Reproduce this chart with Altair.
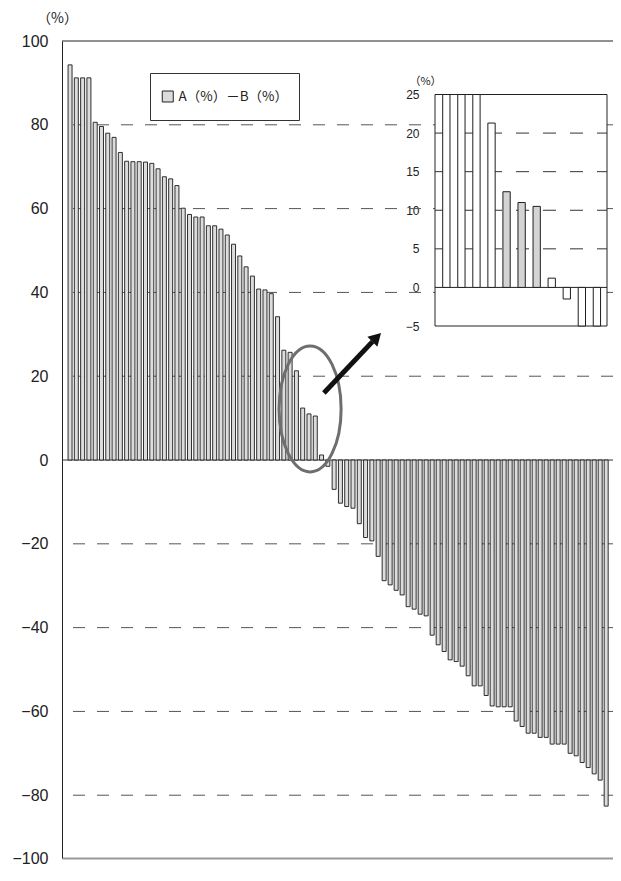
import altair as alt
import pandas as pd

# ---------------- data ----------------
values = [94.3, 91.2, 91.2, 91.2, 80.6, 79.6, 78.0, 77.0, 73.4, 71.3,
          71.2, 71.2, 71.1, 70.8, 69.5, 67.6, 67.1, 65.5, 60.1, 58.6,
          58.0, 58.0, 55.9, 55.9, 55.1, 53.7, 51.5, 48.7, 46.1, 43.9,
          40.8, 40.6, 39.7, 34.2, 26.2, 25.7, 21.3, 12.4, 11.0, 10.5,
          1.2, -1.5, -7.0, -10.3, -11.1, -11.5, -15.2, -18.5, -19.3, -23.0,
          -28.8, -29.8, -31.1, -32.2, -35.0, -35.6, -36.8, -37.2, -41.8, -44.1,
          -45.7, -47.7, -48.1, -49.2, -51.5, -53.9, -53.9, -56.2, -58.7, -58.9,
          -58.9, -58.9, -62.3, -63.6, -65.2, -65.2, -66.2, -66.2, -67.8, -67.8,
          -67.8, -70.0, -70.6, -72.2, -73.4, -74.9, -76.4, -82.6]
series_name = "A（%）－B（%）"
main_ticks = [-100, -80, -60, -40, -20, 0, 20, 40, 60, 80, 100]
main_grid = [-80, -60, -40, -20, 20, 40, 60, 80]

inset_first = 34          # first bar (1-based) shown in the inset
inset_count = 11
inset_highlight = [38, 39, 40]
inset_ticks = [-5, 0, 5, 10, 15, 20, 25]
inset_grid = [5, 10, 15, 20]

# annotation positions in data units of the main chart
ellipse_x = [39.18]
ellipse_y = [12.2]
arrow_x = [41.37]
arrow_y = [15.99]
arrow_x2 = [49.10]
arrow_y2 = [28.26]
head_x = [49.77]
head_y = [29.28]

# ---------------- layout ----------------
W, H = 551, 817
FONT = "Liberation Sans"
CJK = "Noto Sans CJK JP"

# the reference is cropped at the window edge; keep its scale where the marks are
x_main = alt.Scale(domain=[0.5306, 50, 88.326], range=[0, 316.15, W], nice=False, zero=False)
y_main = alt.Scale(domain=[-100, -83, 100], range=[H, 766.8, 0], nice=False, zero=False)
x_in = alt.Scale(domain=[0.247, 11.67], range=[368, 550], nice=False, zero=False)
y_in = alt.Scale(domain=[-5, 25], range=[285, 53.5], nice=False, zero=False, clamp=True)

y_axis_main = alt.Axis(values=main_ticks, grid=False, ticks=False, domainColor="#222",
                       labelFont=FONT, labelFontSize=16, labelColor="#222", labelPadding=14,
                       title="（%）", titleAngle=0, titleX=-5, titleY=-23, titleFont=CJK,
                       titleFontSize=14, titleFontWeight="normal", titleColor="#222",
                       titleAlign="center", titleBaseline="middle")
x_axis_main = alt.Axis(labels=False, ticks=False, grid=False, title=None,
                       domainColor="#999", domainWidth=2)
y_axis_in = alt.Axis(orient="left", offset=-368, values=inset_ticks, grid=False, ticks=False,
                     domain=False, labelFont=FONT, labelFontSize=12, labelColor="#222",
                     labelPadding=11, title="（%）", titleAngle=0, titleX=-5, titleY=40,
                     titleFont=CJK, titleFontSize=11, titleFontWeight="normal",
                     titleColor="#222", titleAlign="center", titleBaseline="middle")

df_main = pd.DataFrame({"idx": list(range(1, len(values) + 1)), "value": values,
                        "series": series_name})

legend = alt.Legend(title=None, orient="none", legendX=88, legendY=32,
                    strokeColor="#333", fillColor="white", padding=11,
                    symbolType="square", symbolSize=121, symbolStrokeColor="#222",
                    symbolStrokeWidth=1, labelFont=CJK, labelFontSize=13.5,
                    labelColor="#222", labelOffset=4, clipHeight=25)

grid = alt.Chart(pd.DataFrame({"g": main_grid})).mark_rule(
    color="#555", strokeWidth=1, strokeDash=[12, 12]).encode(
    y=alt.Y("g:Q", scale=y_main, axis=y_axis_main))

zero = alt.Chart(pd.DataFrame({"z": [0]})).mark_rule(color="#333", strokeWidth=1).encode(
    y=alt.Y("z:Q", scale=y_main, axis=y_axis_main))

bars = alt.Chart(df_main).mark_bar(size=4, stroke="#1a1a1a", strokeWidth=0.9,
                                   orient="vertical", clip=True).encode(
    x=alt.X("idx:Q", scale=x_main, axis=x_axis_main),
    y=alt.Y("value:Q", scale=y_main, axis=y_axis_main),
    y2=alt.datum(0),
    color=alt.Color("series:N", scale=alt.Scale(range=["#dcdcdc"]), legend=legend))

top = alt.Chart(pd.DataFrame({"t": [100]})).mark_rule(color="#222", strokeWidth=1).encode(
    y=alt.Y("t:Q", scale=y_main, axis=y_axis_main))

ellipse_path = ("M0,-1 C0.272,-1 0.492,-0.552 0.492,0 C0.492,0.552 0.272,1 0,1 "
                "C-0.272,1 -0.492,0.552 -0.492,0 C-0.492,-0.552 -0.272,-1 0,-1 Z")
ellipse = alt.Chart(pd.DataFrame({"x": ellipse_x, "y": ellipse_y})).mark_point(
    shape=ellipse_path, size=126 * 126, filled=False, stroke="#6e6e6e",
    strokeWidth=3, opacity=1).encode(
    x=alt.X("x:Q", scale=x_main, axis=x_axis_main),
    y=alt.Y("y:Q", scale=y_main, axis=y_axis_main))

arrow = alt.Chart(pd.DataFrame({"x": arrow_x, "y": arrow_y, "x2": arrow_x2,
                                "y2": arrow_y2})).mark_rule(
    color="#111", strokeWidth=5).encode(
    x=alt.X("x:Q", scale=x_main, axis=x_axis_main), x2="x2:Q",
    y=alt.Y("y:Q", scale=y_main, axis=y_axis_main), y2="y2:Q")

head = alt.Chart(pd.DataFrame({"x": head_x, "y": head_y})).mark_point(
    shape="triangle-up", angle=45, size=200, filled=True, color="#111", opacity=1).encode(
    x=alt.X("x:Q", scale=x_main, axis=x_axis_main),
    y=alt.Y("y:Q", scale=y_main, axis=y_axis_main))

main = alt.layer(grid, zero, bars, top, ellipse, arrow, head)

# ---------------- inset ----------------
sub_vals = values[inset_first - 1: inset_first - 1 + inset_count]
sub_idx = list(range(inset_first, inset_first + inset_count))
df_in = pd.DataFrame({"pos": list(range(1, inset_count + 1)), "value": sub_vals,
                      "hl": [1 if i in inset_highlight else 0 for i in sub_idx]})
xd = x_in.domain
yd = y_in.domain

frame = alt.Chart(pd.DataFrame({"x0": [xd[0]], "x1": [xd[1]], "y0": [yd[0]],
                                "y1": [yd[1]]})).mark_rect(
    fill="white", stroke="#222", strokeWidth=1).encode(
    x=alt.X("x0:Q", scale=x_in, axis=None), x2="x1:Q",
    y=alt.Y("y0:Q", scale=y_in, axis=y_axis_in), y2="y1:Q")

in_grid = alt.Chart(pd.DataFrame({"g": inset_grid, "x0": xd[0], "x1": xd[1]})).mark_rule(
    color="#333", strokeWidth=1, strokeDash=[13, 14]).encode(
    x=alt.X("x0:Q", scale=x_in, axis=None), x2="x1:Q",
    y=alt.Y("g:Q", scale=y_in, axis=y_axis_in))

in_zero = alt.Chart(pd.DataFrame({"g": [0], "x0": xd[0], "x1": xd[1]})).mark_rule(
    color="#222", strokeWidth=1).encode(
    x=alt.X("x0:Q", scale=x_in, axis=None), x2="x1:Q",
    y=alt.Y("g:Q", scale=y_in, axis=y_axis_in))

in_bars = alt.Chart(df_in).mark_bar(size=7.3, stroke="#1e1e1e", strokeWidth=1,
                                    orient="vertical").encode(
    x=alt.X("pos:Q", scale=x_in, axis=None),
    y=alt.Y("value:Q", scale=y_in, axis=y_axis_in),
    y2=alt.datum(0),
    fill=alt.condition("datum.hl == 1", alt.value("#d4d4d4"), alt.value("white")))

inset = alt.layer(frame, in_grid, in_zero, in_bars)

chart = alt.layer(main, inset).resolve_scale(
    x="independent", y="independent"
).properties(
    width=W, height=H,
    autosize=alt.AutoSizeParams(type="none"),
    padding={"left": 54, "top": 33, "right": 0, "bottom": 8},
).configure(font=FONT).configure_view(stroke=None)

chart.save("out.html", embed_options={"renderer": "svg", "actions": False})
